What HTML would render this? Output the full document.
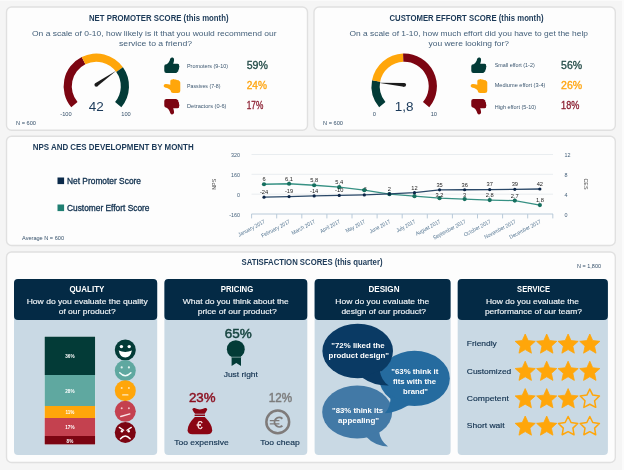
<!DOCTYPE html><html><head><meta charset="utf-8"><style>html,body{margin:0;padding:0;background:#f5f5f5;}svg{display:block;filter:blur(0.35px);}</style></head><body><svg width="624" height="470" viewBox="0 0 624 470" font-family="Liberation Sans, sans-serif">
<rect width="624" height="470" fill="#f5f5f5"/>
<rect x="622" y="0" width="2" height="470" fill="#fbfbfb"/>
<rect x="0" y="0" width="624" height="0.9" fill="#fbfbfb"/>
<rect x="6.5" y="7" width="301.0" height="123.30000000000001" rx="5" fill="#fdfdfd" stroke="#e0e0e0" stroke-width="1.4"/>
<rect x="314" y="7" width="301.29999999999995" height="123.30000000000001" rx="5" fill="#fdfdfd" stroke="#e0e0e0" stroke-width="1.4"/>
<rect x="6.5" y="136.2" width="608.8" height="109.30000000000001" rx="5" fill="#fdfdfd" stroke="#e0e0e0" stroke-width="1.4"/>
<rect x="6.5" y="252" width="608.8" height="210.5" rx="5" fill="#fdfdfd" stroke="#e0e0e0" stroke-width="1.4"/>
<text x="89" y="20.6" font-size="8.2" fill="#1b3957" text-anchor="start" font-weight="bold" textLength="139.5" lengthAdjust="spacingAndGlyphs">NET PROMOTER SCORE (this month)</text>
<text x="32" y="36" font-size="8" fill="#44607a" text-anchor="start" font-weight="normal" textLength="244.5" lengthAdjust="spacingAndGlyphs">On a scale of 0-10, how likely is it that you would recommend our</text>
<text x="119" y="45.6" font-size="8" fill="#44607a" text-anchor="start" font-weight="normal" textLength="73" lengthAdjust="spacingAndGlyphs">service to a friend?</text>
<path d="M71.25,107.32 A32.7,32.7 0 0 1 81.71,57.04 L85.37,64.37 A24.5,24.5 0 0 0 77.53,102.05 Z" fill="#7c0512"/>
<path d="M81.71,57.04 A32.7,32.7 0 0 1 122.95,67.36 L116.27,72.11 A24.5,24.5 0 0 0 85.37,64.37 Z" fill="#ffa60a"/>
<path d="M122.95,67.36 A32.7,32.7 0 0 1 121.35,107.32 L115.07,102.05 A24.5,24.5 0 0 0 116.27,72.11 Z" fill="#033b37"/>
<path d="M97.40,86.35 L116.19,70.67 L95.20,83.25 Z" fill="#1c1c1c"/>
<circle cx="96.3" cy="84.8" r="1.9" fill="#1c1c1c"/>
<text x="96.3" y="110.9" font-size="13.5" fill="#1b3a5a" text-anchor="middle" font-weight="normal">42</text>
<text x="66" y="116.1" font-size="5.7" fill="#35506a" text-anchor="middle" font-weight="normal">-100</text>
<text x="126" y="116.1" font-size="5.7" fill="#35506a" text-anchor="middle" font-weight="normal">100</text>
<path d="M0.4,9 Q0.4,7 2.4,6.9 L2.8,6.9 Q4.6,6 5.8,3.4 Q6.2,2 6.7,1 Q7.4,-0.1 8.9,0.2 Q10.4,0.8 10.3,2.4 Q10.2,4.4 9.4,6.4 L13.8,6.4 Q15.8,6.5 15.4,8.4 Q16.2,9.6 15.2,10.6 Q15.8,12 14.6,12.8 Q15,14.2 13.6,14.8 Q13.2,15.8 12,15.8 L2.6,15.8 Q0.4,15.8 0.4,13.6 Z" fill="#033b37" transform="translate(163.88000000000002,57.379999999999995) scale(0.99)"/>
<path d="M0.4,9 Q0.4,7 2.4,6.9 L2.8,6.9 Q4.6,6 5.8,3.4 Q6.2,2 6.7,1 Q7.4,-0.1 8.9,0.2 Q10.4,0.8 10.3,2.4 Q10.2,4.4 9.4,6.4 L13.8,6.4 Q15.8,6.5 15.4,8.4 Q16.2,9.6 15.2,10.6 Q15.8,12 14.6,12.8 Q15,14.2 13.6,14.8 Q13.2,15.8 12,15.8 L2.6,15.8 Q0.4,15.8 0.4,13.6 Z" fill="#ffa60a" transform="translate(172,86.1) rotate(-90) scale(0.9,1.06) translate(-8,-8)"/>
<path d="M0.4,9 Q0.4,7 2.4,6.9 L2.8,6.9 Q4.6,6 5.8,3.4 Q6.2,2 6.7,1 Q7.4,-0.1 8.9,0.2 Q10.4,0.8 10.3,2.4 Q10.2,4.4 9.4,6.4 L13.8,6.4 Q15.8,6.5 15.4,8.4 Q16.2,9.6 15.2,10.6 Q15.8,12 14.6,12.8 Q15,14.2 13.6,14.8 Q13.2,15.8 12,15.8 L2.6,15.8 Q0.4,15.8 0.4,13.6 Z" fill="#7c0512" transform="translate(163.88000000000002,114.52) scale(0.99,-0.99)"/>
<text x="187" y="67.6" font-size="5.9" fill="#3b566f" text-anchor="start" font-weight="normal" textLength="41" lengthAdjust="spacingAndGlyphs">Promoters (9-10)</text>
<text x="187" y="87.6" font-size="5.9" fill="#3b566f" text-anchor="start" font-weight="normal" textLength="33.5" lengthAdjust="spacingAndGlyphs">Passives (7-8)</text>
<text x="187" y="108.2" font-size="5.9" fill="#3b566f" text-anchor="start" font-weight="normal" textLength="39.5" lengthAdjust="spacingAndGlyphs">Detractors (0-6)</text>
<text x="246.7" y="68.7" font-size="10.1" fill="#244c48" text-anchor="start" font-weight="normal" textLength="21.2" lengthAdjust="spacingAndGlyphs" stroke="#244c48" stroke-width="0.3">59%</text>
<text x="246.7" y="88.6" font-size="10.1" fill="#ffa510" text-anchor="start" font-weight="normal" textLength="20.2" lengthAdjust="spacingAndGlyphs" stroke="#ffa510" stroke-width="0.3">24%</text>
<text x="246.7" y="109.3" font-size="10.1" fill="#8c2032" text-anchor="start" font-weight="normal" textLength="16.6" lengthAdjust="spacingAndGlyphs" stroke="#8c2032" stroke-width="0.3">17%</text>
<text x="16" y="124.6" font-size="5.4" fill="#35506a" text-anchor="start" font-weight="normal" textLength="20" lengthAdjust="spacingAndGlyphs">N = 600</text>
<text x="389.5" y="20.6" font-size="8.2" fill="#1b3957" text-anchor="start" font-weight="bold" textLength="154" lengthAdjust="spacingAndGlyphs">CUSTOMER EFFORT SCORE (this month)</text>
<text x="349.5" y="36" font-size="8" fill="#44607a" text-anchor="start" font-weight="normal" textLength="238.5" lengthAdjust="spacingAndGlyphs">On a scale of 1-10, how much effort did you have to get the help</text>
<text x="428.5" y="45.6" font-size="8" fill="#44607a" text-anchor="start" font-weight="normal" textLength="80.5" lengthAdjust="spacingAndGlyphs">you were looking for?</text>
<path d="M379.15,107.32 A32.7,32.7 0 0 1 372.05,80.34 L380.11,81.84 A24.5,24.5 0 0 0 385.43,102.05 Z" fill="#033b37"/>
<path d="M372.05,80.34 A32.7,32.7 0 0 1 403.06,53.62 L403.34,61.81 A24.5,24.5 0 0 0 380.11,81.84 Z" fill="#ffa60a"/>
<path d="M403.06,53.62 A32.7,32.7 0 0 1 429.25,107.32 L422.97,102.05 A24.5,24.5 0 0 0 403.34,61.81 Z" fill="#7c0512"/>
<path d="M404.35,82.91 L378.28,82.81 L404.05,86.69 Z" fill="#1c1c1c"/>
<circle cx="404.2" cy="84.8" r="1.9" fill="#1c1c1c"/>
<text x="404.2" y="110.9" font-size="13.5" fill="#1b3a5a" text-anchor="middle" font-weight="normal">1,8</text>
<text x="374.3" y="116.1" font-size="5.7" fill="#35506a" text-anchor="middle" font-weight="normal">0</text>
<text x="433.8" y="116.1" font-size="5.7" fill="#35506a" text-anchor="middle" font-weight="normal">10</text>
<path d="M0.4,9 Q0.4,7 2.4,6.9 L2.8,6.9 Q4.6,6 5.8,3.4 Q6.2,2 6.7,1 Q7.4,-0.1 8.9,0.2 Q10.4,0.8 10.3,2.4 Q10.2,4.4 9.4,6.4 L13.8,6.4 Q15.8,6.5 15.4,8.4 Q16.2,9.6 15.2,10.6 Q15.8,12 14.6,12.8 Q15,14.2 13.6,14.8 Q13.2,15.8 12,15.8 L2.6,15.8 Q0.4,15.8 0.4,13.6 Z" fill="#033b37" transform="translate(470.88,57.379999999999995) scale(0.99)"/>
<path d="M0.4,9 Q0.4,7 2.4,6.9 L2.8,6.9 Q4.6,6 5.8,3.4 Q6.2,2 6.7,1 Q7.4,-0.1 8.9,0.2 Q10.4,0.8 10.3,2.4 Q10.2,4.4 9.4,6.4 L13.8,6.4 Q15.8,6.5 15.4,8.4 Q16.2,9.6 15.2,10.6 Q15.8,12 14.6,12.8 Q15,14.2 13.6,14.8 Q13.2,15.8 12,15.8 L2.6,15.8 Q0.4,15.8 0.4,13.6 Z" fill="#ffa60a" transform="translate(479,86.1) rotate(-90) scale(0.9,1.06) translate(-8,-8)"/>
<path d="M0.4,9 Q0.4,7 2.4,6.9 L2.8,6.9 Q4.6,6 5.8,3.4 Q6.2,2 6.7,1 Q7.4,-0.1 8.9,0.2 Q10.4,0.8 10.3,2.4 Q10.2,4.4 9.4,6.4 L13.8,6.4 Q15.8,6.5 15.4,8.4 Q16.2,9.6 15.2,10.6 Q15.8,12 14.6,12.8 Q15,14.2 13.6,14.8 Q13.2,15.8 12,15.8 L2.6,15.8 Q0.4,15.8 0.4,13.6 Z" fill="#7c0512" transform="translate(470.88,114.52) scale(0.99,-0.99)"/>
<text x="494.7" y="67.2" font-size="5.9" fill="#3b566f" text-anchor="start" font-weight="normal" textLength="40" lengthAdjust="spacingAndGlyphs">Small effort (1-2)</text>
<text x="494.7" y="87.2" font-size="5.9" fill="#3b566f" text-anchor="start" font-weight="normal" textLength="50.8" lengthAdjust="spacingAndGlyphs">Mediume effort (3-4)</text>
<text x="494.7" y="108.6" font-size="5.9" fill="#3b566f" text-anchor="start" font-weight="normal" textLength="41.4" lengthAdjust="spacingAndGlyphs">High effort (5-10)</text>
<text x="561.1" y="68.7" font-size="10.1" fill="#244c48" text-anchor="start" font-weight="normal" textLength="21.1" lengthAdjust="spacingAndGlyphs" stroke="#244c48" stroke-width="0.3">56%</text>
<text x="561.1" y="88.6" font-size="10.1" fill="#ffa510" text-anchor="start" font-weight="normal" textLength="21.1" lengthAdjust="spacingAndGlyphs" stroke="#ffa510" stroke-width="0.3">26%</text>
<text x="561.1" y="109.3" font-size="10.1" fill="#8c2032" text-anchor="start" font-weight="normal" textLength="18.3" lengthAdjust="spacingAndGlyphs" stroke="#8c2032" stroke-width="0.3">18%</text>
<text x="323" y="124.6" font-size="5.4" fill="#35506a" text-anchor="start" font-weight="normal" textLength="20" lengthAdjust="spacingAndGlyphs">N = 600</text>
<text x="32.7" y="150.1" font-size="8.2" fill="#1b3957" text-anchor="start" font-weight="bold" textLength="161" lengthAdjust="spacingAndGlyphs">NPS AND CES DEVELOPMENT BY MONTH</text>
<rect x="57.5" y="177.5" width="6.6" height="6.6" fill="#0b2a4a"/>
<text x="67" y="183.9" font-size="8.3" fill="#10304e" text-anchor="start" font-weight="normal" textLength="74" lengthAdjust="spacingAndGlyphs" stroke="#10304e" stroke-width="0.3">Net Promoter Score</text>
<rect x="57.5" y="204.5" width="6.6" height="6.6" fill="#1f7f72"/>
<text x="67" y="210.9" font-size="8.3" fill="#10304e" text-anchor="start" font-weight="normal" textLength="82.5" lengthAdjust="spacingAndGlyphs" stroke="#10304e" stroke-width="0.3">Customer Effort Score</text>
<text x="22" y="240.3" font-size="5.4" fill="#35506a" text-anchor="start" font-weight="normal" textLength="42" lengthAdjust="spacingAndGlyphs">Average N = 600</text>
<line x1="251.5" x2="553" y1="154.5" y2="154.5" stroke="#e9edf0" stroke-width="1"/>
<line x1="251.5" x2="553" y1="174.3" y2="174.3" stroke="#e9edf0" stroke-width="1"/>
<line x1="251.5" x2="553" y1="194.2" y2="194.2" stroke="#e9edf0" stroke-width="1"/>
<line x1="251.5" x2="553" y1="214.0" y2="214.0" stroke="#b9cad9" stroke-width="1"/>
<text x="240" y="157.2" font-size="5.4" fill="#44607a" text-anchor="end" font-weight="normal">320</text>
<text x="240" y="177.0" font-size="5.4" fill="#44607a" text-anchor="end" font-weight="normal">160</text>
<text x="240" y="196.89999999999998" font-size="5.4" fill="#44607a" text-anchor="end" font-weight="normal">0</text>
<text x="240" y="216.7" font-size="5.4" fill="#44607a" text-anchor="end" font-weight="normal">-160</text>
<text x="564.5" y="157.2" font-size="5.4" fill="#44607a" text-anchor="start" font-weight="normal">12</text>
<text x="564.5" y="177.0" font-size="5.4" fill="#44607a" text-anchor="start" font-weight="normal">8</text>
<text x="564.5" y="196.89999999999998" font-size="5.4" fill="#44607a" text-anchor="start" font-weight="normal">4</text>
<text x="564.5" y="216.7" font-size="5.4" fill="#44607a" text-anchor="start" font-weight="normal">0</text>
<text transform="translate(216.2,184.3) rotate(-90)" font-size="5.4" fill="#4a4a4a" text-anchor="middle">NPS</text>
<text transform="translate(584.2,184) rotate(90)" font-size="5.4" fill="#4a4a4a" text-anchor="middle">CES</text>
<line x1="251.60" x2="251.60" y1="214" y2="218.4" stroke="#b9cad9" stroke-width="1"/>
<line x1="276.70" x2="276.70" y1="214" y2="218.4" stroke="#b9cad9" stroke-width="1"/>
<line x1="301.80" x2="301.80" y1="214" y2="218.4" stroke="#b9cad9" stroke-width="1"/>
<line x1="326.90" x2="326.90" y1="214" y2="218.4" stroke="#b9cad9" stroke-width="1"/>
<line x1="352.00" x2="352.00" y1="214" y2="218.4" stroke="#b9cad9" stroke-width="1"/>
<line x1="377.10" x2="377.10" y1="214" y2="218.4" stroke="#b9cad9" stroke-width="1"/>
<line x1="402.20" x2="402.20" y1="214" y2="218.4" stroke="#b9cad9" stroke-width="1"/>
<line x1="427.30" x2="427.30" y1="214" y2="218.4" stroke="#b9cad9" stroke-width="1"/>
<line x1="452.40" x2="452.40" y1="214" y2="218.4" stroke="#b9cad9" stroke-width="1"/>
<line x1="477.50" x2="477.50" y1="214" y2="218.4" stroke="#b9cad9" stroke-width="1"/>
<line x1="502.60" x2="502.60" y1="214" y2="218.4" stroke="#b9cad9" stroke-width="1"/>
<line x1="527.70" x2="527.70" y1="214" y2="218.4" stroke="#b9cad9" stroke-width="1"/>
<line x1="552.80" x2="552.80" y1="214" y2="218.4" stroke="#b9cad9" stroke-width="1"/>
<text transform="translate(265.40,222.8) rotate(-28)" font-size="5.5" fill="#50728f" x="-29.62" textLength="29.62" lengthAdjust="spacingAndGlyphs">January 2017</text>
<text transform="translate(290.48,222.8) rotate(-28)" font-size="5.5" fill="#50728f" x="-31.79" textLength="31.79" lengthAdjust="spacingAndGlyphs">February 2017</text>
<text transform="translate(315.56,222.8) rotate(-28)" font-size="5.5" fill="#50728f" x="-25.81" textLength="25.81" lengthAdjust="spacingAndGlyphs">March 2017</text>
<text transform="translate(340.64,222.8) rotate(-28)" font-size="5.5" fill="#50728f" x="-22.01" textLength="22.01" lengthAdjust="spacingAndGlyphs">April 2017</text>
<text transform="translate(365.72,222.8) rotate(-28)" font-size="5.5" fill="#50728f" x="-21.46" textLength="21.46" lengthAdjust="spacingAndGlyphs">May 2017</text>
<text transform="translate(390.80,222.8) rotate(-28)" font-size="5.5" fill="#50728f" x="-22.83" textLength="22.83" lengthAdjust="spacingAndGlyphs">June 2017</text>
<text transform="translate(415.88,222.8) rotate(-28)" font-size="5.5" fill="#50728f" x="-20.92" textLength="20.92" lengthAdjust="spacingAndGlyphs">July 2017</text>
<text transform="translate(440.96,222.8) rotate(-28)" font-size="5.5" fill="#50728f" x="-27.45" textLength="27.45" lengthAdjust="spacingAndGlyphs">August 2017</text>
<text transform="translate(466.04,222.8) rotate(-28)" font-size="5.5" fill="#50728f" x="-36.14" textLength="36.14" lengthAdjust="spacingAndGlyphs">September 2017</text>
<text transform="translate(491.12,222.8) rotate(-28)" font-size="5.5" fill="#50728f" x="-29.62" textLength="29.62" lengthAdjust="spacingAndGlyphs">October 2017</text>
<text transform="translate(516.20,222.8) rotate(-28)" font-size="5.5" fill="#50728f" x="-34.78" textLength="34.78" lengthAdjust="spacingAndGlyphs">November 2017</text>
<text transform="translate(541.28,222.8) rotate(-28)" font-size="5.5" fill="#50728f" x="-34.78" textLength="34.78" lengthAdjust="spacingAndGlyphs">December 2017</text>
<polyline fill="none" stroke="#379184" stroke-width="1.3" points="264.0,184.24 289.08,183.74 314.15999999999997,185.23 339.24,187.22 364.32,190.19 389.4,194.16 414.48,196.14 439.56,198.13 464.64,199.12 489.71999999999997,200.11 514.8,200.61 539.88,205.07"/>
<polyline fill="none" stroke="#2a4868" stroke-width="1.3" points="264.0,197.18 289.08,196.56 314.15999999999997,195.94 339.24,195.44 364.32,194.94 389.4,193.95 414.48,192.71 439.56,189.86 464.64,189.73 489.71999999999997,189.61 514.8,189.36 539.88,188.99"/>
<text x="364.32" y="191.2" font-size="5.7" fill="#1c1c1c" text-anchor="middle" font-weight="normal">-6</text>
<circle cx="264.0" cy="184.24" r="2.1" fill="#16705f"/>
<circle cx="289.08" cy="183.74" r="2.1" fill="#16705f"/>
<circle cx="314.15999999999997" cy="185.23" r="2.1" fill="#16705f"/>
<circle cx="339.24" cy="187.22" r="2.1" fill="#16705f"/>
<circle cx="364.32" cy="190.19" r="2.1" fill="#16705f"/>
<circle cx="389.4" cy="194.16" r="2.1" fill="#16705f"/>
<circle cx="414.48" cy="196.14" r="2.1" fill="#16705f"/>
<circle cx="439.56" cy="198.13" r="2.1" fill="#16705f"/>
<circle cx="464.64" cy="199.12" r="2.1" fill="#16705f"/>
<circle cx="489.71999999999997" cy="200.11" r="2.1" fill="#16705f"/>
<circle cx="514.8" cy="200.61" r="2.1" fill="#16705f"/>
<circle cx="539.88" cy="205.07" r="2.1" fill="#16705f"/>
<circle cx="264.0" cy="197.18" r="1.6" fill="#0b2547"/>
<circle cx="289.08" cy="196.56" r="1.6" fill="#0b2547"/>
<circle cx="314.15999999999997" cy="195.94" r="1.6" fill="#0b2547"/>
<circle cx="339.24" cy="195.44" r="1.6" fill="#0b2547"/>
<circle cx="364.32" cy="194.94" r="1.6" fill="#0b2547"/>
<circle cx="389.4" cy="193.95" r="1.6" fill="#0b2547"/>
<circle cx="414.48" cy="192.71" r="1.6" fill="#0b2547"/>
<circle cx="439.56" cy="189.86" r="1.6" fill="#0b2547"/>
<circle cx="464.64" cy="189.73" r="1.6" fill="#0b2547"/>
<circle cx="489.71999999999997" cy="189.61" r="1.6" fill="#0b2547"/>
<circle cx="514.8" cy="189.36" r="1.6" fill="#0b2547"/>
<circle cx="539.88" cy="188.99" r="1.6" fill="#0b2547"/>
<text x="264.0" y="181.04000000000002" font-size="5.7" fill="#1c1c1c" text-anchor="middle" font-weight="normal">6</text>
<text x="289.08" y="180.544" font-size="5.7" fill="#1c1c1c" text-anchor="middle" font-weight="normal">6,1</text>
<text x="314.15999999999997" y="182.032" font-size="5.7" fill="#1c1c1c" text-anchor="middle" font-weight="normal">5,8</text>
<text x="339.24" y="184.01600000000002" font-size="5.7" fill="#1c1c1c" text-anchor="middle" font-weight="normal">5,4</text>
<text x="439.56" y="196.728" font-size="5.7" fill="#1c1c1c" text-anchor="middle" font-weight="normal">3,2</text>
<text x="464.64" y="197.32000000000002" font-size="5.7" fill="#1c1c1c" text-anchor="middle" font-weight="normal">3</text>
<text x="489.71999999999997" y="197.21200000000002" font-size="5.7" fill="#1c1c1c" text-anchor="middle" font-weight="normal">2,8</text>
<text x="514.8" y="197.608" font-size="5.7" fill="#1c1c1c" text-anchor="middle" font-weight="normal">2,7</text>
<text x="539.88" y="201.872" font-size="5.7" fill="#1c1c1c" text-anchor="middle" font-weight="normal">1,8</text>
<text x="264.0" y="193.9775" font-size="5.7" fill="#1c1c1c" text-anchor="middle" font-weight="normal">-24</text>
<text x="289.08" y="193.3571875" font-size="5.7" fill="#1c1c1c" text-anchor="middle" font-weight="normal">-19</text>
<text x="314.15999999999997" y="192.736875" font-size="5.7" fill="#1c1c1c" text-anchor="middle" font-weight="normal">-14</text>
<text x="339.24" y="192.240625" font-size="5.7" fill="#1c1c1c" text-anchor="middle" font-weight="normal">-10</text>
<text x="389.4" y="190.751875" font-size="5.7" fill="#1c1c1c" text-anchor="middle" font-weight="normal">2</text>
<text x="414.48" y="189.51125" font-size="5.7" fill="#1c1c1c" text-anchor="middle" font-weight="normal">12</text>
<text x="439.56" y="186.6578125" font-size="5.7" fill="#1c1c1c" text-anchor="middle" font-weight="normal">35</text>
<text x="464.64" y="186.53375" font-size="5.7" fill="#1c1c1c" text-anchor="middle" font-weight="normal">36</text>
<text x="489.71999999999997" y="186.4096875" font-size="5.7" fill="#1c1c1c" text-anchor="middle" font-weight="normal">37</text>
<text x="514.8" y="186.1615625" font-size="5.7" fill="#1c1c1c" text-anchor="middle" font-weight="normal">39</text>
<text x="539.88" y="185.789375" font-size="5.7" fill="#1c1c1c" text-anchor="middle" font-weight="normal">42</text>
<text x="241.5" y="264.8" font-size="8.2" fill="#1b3957" text-anchor="start" font-weight="bold" textLength="141" lengthAdjust="spacingAndGlyphs">SATISFACTION SCORES (this quarter)</text>
<text x="577" y="268" font-size="5.4" fill="#35506a" text-anchor="start" font-weight="normal" textLength="24" lengthAdjust="spacingAndGlyphs">N = 1,800</text>
<rect x="14" y="279" width="143.2" height="176" rx="4" fill="#c9d9e4"/>
<rect x="14" y="279" width="143.2" height="40.9" rx="4" fill="#042a45"/>
<rect x="164.4" y="279" width="142.9" height="176" rx="4" fill="#c9d9e4"/>
<rect x="164.4" y="279" width="142.9" height="40.9" rx="4" fill="#042a45"/>
<rect x="314.6" y="279" width="136.0" height="176" rx="4" fill="#c9d9e4"/>
<rect x="314.6" y="279" width="136.0" height="40.9" rx="4" fill="#042a45"/>
<rect x="457.7" y="279" width="150.2" height="176" rx="4" fill="#c9d9e4"/>
<rect x="457.7" y="279" width="150.2" height="40.9" rx="4" fill="#042a45"/>
<text x="69.4" y="291.8" font-size="8.2" fill="#fff" text-anchor="start" font-weight="bold" textLength="35" lengthAdjust="spacingAndGlyphs">QUALITY</text>
<text x="26.700000000000003" y="303.6" font-size="7.8" fill="#f0f4f7" text-anchor="start" font-weight="normal" textLength="121" lengthAdjust="spacingAndGlyphs" stroke="#f0f4f7" stroke-width="0.15">How do you evaluate the quality</text>
<text x="58.7" y="314.0" font-size="7.8" fill="#f0f4f7" text-anchor="start" font-weight="normal" textLength="57" lengthAdjust="spacingAndGlyphs" stroke="#f0f4f7" stroke-width="0.15">of our product?</text>
<text x="220.75" y="291.8" font-size="8.2" fill="#fff" text-anchor="start" font-weight="bold" textLength="32.5" lengthAdjust="spacingAndGlyphs">PRICING</text>
<text x="182.8" y="303.6" font-size="7.8" fill="#f0f4f7" text-anchor="start" font-weight="normal" textLength="106" lengthAdjust="spacingAndGlyphs" stroke="#f0f4f7" stroke-width="0.15">What do you think about the</text>
<text x="197.7" y="314.0" font-size="7.8" fill="#f0f4f7" text-anchor="start" font-weight="normal" textLength="79" lengthAdjust="spacingAndGlyphs" stroke="#f0f4f7" stroke-width="0.15">price of our product?</text>
<text x="368.5" y="291.8" font-size="8.2" fill="#fff" text-anchor="start" font-weight="bold" textLength="31" lengthAdjust="spacingAndGlyphs">DESIGN</text>
<text x="335.3" y="303.6" font-size="7.8" fill="#f0f4f7" text-anchor="start" font-weight="normal" textLength="94" lengthAdjust="spacingAndGlyphs" stroke="#f0f4f7" stroke-width="0.15">How do you evaluate the</text>
<text x="341.4" y="314.0" font-size="7.8" fill="#f0f4f7" text-anchor="start" font-weight="normal" textLength="84.6" lengthAdjust="spacingAndGlyphs" stroke="#f0f4f7" stroke-width="0.15">design of our product?</text>
<text x="517.1" y="291.8" font-size="8.2" fill="#fff" text-anchor="start" font-weight="bold" textLength="33" lengthAdjust="spacingAndGlyphs">SERVICE</text>
<text x="486.0" y="303.6" font-size="7.8" fill="#f0f4f7" text-anchor="start" font-weight="normal" textLength="93" lengthAdjust="spacingAndGlyphs" stroke="#f0f4f7" stroke-width="0.15">How do you evaluate the</text>
<text x="484.9" y="314.0" font-size="7.8" fill="#f0f4f7" text-anchor="start" font-weight="normal" textLength="97" lengthAdjust="spacingAndGlyphs" stroke="#f0f4f7" stroke-width="0.15">performance of our team?</text>
<rect x="44.2" y="336.2" width="51.4" height="108.7" fill="#dfeaf1"/>
<rect x="44.7" y="336.7" width="50.4" height="38.30000000000001" fill="#033b37"/>
<text x="69.9" y="358.15000000000003" font-size="4.6" fill="#fff" text-anchor="middle" font-weight="bold">36%</text>
<rect x="44.7" y="375" width="50.4" height="31" fill="#5fa8a0"/>
<text x="69.9" y="392.8" font-size="4.6" fill="#fff" text-anchor="middle" font-weight="bold">28%</text>
<rect x="44.7" y="406" width="50.4" height="12" fill="#ffa60a"/>
<text x="69.9" y="414.3" font-size="4.6" fill="#fff" text-anchor="middle" font-weight="bold">11%</text>
<rect x="44.7" y="418" width="50.4" height="18" fill="#c4414f"/>
<text x="69.9" y="429.3" font-size="4.6" fill="#fff" text-anchor="middle" font-weight="bold">17%</text>
<rect x="44.7" y="436" width="50.4" height="8.399999999999977" fill="#7c0512"/>
<text x="69.9" y="442.5" font-size="4.6" fill="#fff" text-anchor="middle" font-weight="bold">8%</text>
<circle cx="125.3" cy="350" r="10.5" fill="#033b37"/>
<circle cx="125.3" cy="370.6" r="10.5" fill="#5fa8a0"/>
<circle cx="125.3" cy="390.7" r="10.5" fill="#ffa60a"/>
<circle cx="125.3" cy="411.3" r="10.5" fill="#c4414f"/>
<circle cx="125.3" cy="432.4" r="10.5" fill="#7c0512"/>
<circle cx="121.39999999999999" cy="346.6" r="1.7" fill="#ffffff"/><circle cx="129.2" cy="346.6" r="1.7" fill="#ffffff"/>
<path d="M118.7,350.6 Q125.3,353.2 131.9,350.6 Q130.5,357.6 125.3,357.6 Q120.1,357.6 118.7,350.6 Z" fill="#ffffff"/>
<circle cx="121.7" cy="367.40000000000003" r="1.1" fill="#e4f3f0"/><circle cx="128.9" cy="367.40000000000003" r="1.1" fill="#e4f3f0"/>
<path d="M119.7,372.8 Q125.3,378.6 130.9,372.8" fill="none" stroke="#f2fbf9" stroke-width="1.5" stroke-linecap="round"/>
<circle cx="121.7" cy="387.9" r="1.0" fill="#ffe2ae"/><circle cx="128.9" cy="387.9" r="1.0" fill="#ffe2ae"/>
<line x1="122.7" x2="127.89999999999999" y1="394.9" y2="394.9" stroke="#ffe9c0" stroke-width="1.3" stroke-linecap="round"/>
<circle cx="121.7" cy="408.3" r="1.0" fill="#f3c3c8"/><circle cx="128.9" cy="408.3" r="1.0" fill="#f3c3c8"/>
<line x1="120.7" x2="129.9" y1="416.5" y2="413.90000000000003" stroke="#fbe3e5" stroke-width="1.3" stroke-linecap="round"/>
<path d="M119.3,427.4 L123.7,430.2 M131.3,427.4 L126.89999999999999,430.2" stroke="#ffffff" stroke-width="1.3" stroke-linecap="round" fill="none"/>
<circle cx="121.89999999999999" cy="431.2" r="1.2" fill="#ffffff"/><circle cx="128.7" cy="431.2" r="1.2" fill="#ffffff"/>
<path d="M120.5,438.79999999999995 Q125.3,433.0 130.1,438.79999999999995" fill="none" stroke="#ffffff" stroke-width="1.5" stroke-linecap="round"/>
<text x="238.3" y="337.8" font-size="12.1" fill="#174540" text-anchor="middle" font-weight="normal" textLength="27" lengthAdjust="spacingAndGlyphs" stroke="#174540" stroke-width="0.45">65%</text>
<circle cx="235.8" cy="349.2" r="8.95" fill="#033b37"/>
<path d="M231.6,355 L241,355 L241,365.9 L236.3,362.9 L231.6,365.9 Z" fill="#033b37"/>
<path d="M230.5,357.2 H242" stroke="#9fb9b9" stroke-width="0.7" fill="none"/>
<text x="240.8" y="377.4" font-size="8" fill="#10304e" text-anchor="middle" font-weight="normal" textLength="34.2" lengthAdjust="spacingAndGlyphs" stroke="#10304e" stroke-width="0.15">Just right</text>
<text x="202.2" y="402.2" font-size="12.3" fill="#8b0f1f" text-anchor="middle" font-weight="normal" textLength="26.6" lengthAdjust="spacingAndGlyphs" stroke="#8b0f1f" stroke-width="0.45">23%</text>
<text x="280.5" y="402.2" font-size="12.3" fill="#7c7c7c" text-anchor="middle" font-weight="normal" textLength="23.4" lengthAdjust="spacingAndGlyphs" stroke="#7c7c7c" stroke-width="0.45">12%</text>
<path d="M192.3,409.6 Q192.5,407.7 194.6,408.1 Q199.8,410.9 205,408.1 Q207.1,407.7 207.3,409.6 Q206.2,412 204.7,413.7 L195.1,413.7 Q193.4,412 192.3,409.6 Z" fill="#8b0513"/>
<rect x="194.6" y="414.5" width="10.4" height="1.5" fill="#8b0513"/>
<path d="M194.8,416.9 L204.8,416.9 Q212.4,424.4 212.2,430.2 Q212,434.3 207.4,434.3 L192.4,434.3 Q187.8,434.3 187.6,430.2 Q187.4,424.4 194.8,416.9 Z" fill="#8b0513"/>
<text x="199.6" y="429.0" font-size="10.4" fill="#fdeeee" text-anchor="middle" font-weight="normal" stroke="#fdeeee" stroke-width="0.25">€</text>
<circle cx="277.75" cy="421.9" r="11.4" fill="none" stroke="#7f7b7a" stroke-width="2.5"/>
<path d="M282.4,418.7 A4.7,4.7 0 1 0 282.4,425.7" fill="none" stroke="#7f7b7a" stroke-width="1.9"/>
<path d="M269.8,420.7 H279.4 M269.8,423.8 H279.4" fill="none" stroke="#7f7b7a" stroke-width="1.3"/>
<text x="201.4" y="445.0" font-size="8" fill="#10304e" text-anchor="middle" font-weight="normal" textLength="54.5" lengthAdjust="spacingAndGlyphs" stroke="#10304e" stroke-width="0.15">Too expensive</text>
<text x="280" y="445.0" font-size="8" fill="#10304e" text-anchor="middle" font-weight="normal" textLength="39.5" lengthAdjust="spacingAndGlyphs" stroke="#10304e" stroke-width="0.15">Too cheap</text>
<ellipse cx="357.2" cy="412" rx="35" ry="26.5" fill="#4279a6"/>
<path d="M366,436.5 Q374,445.5 388,446.6 Q380,440.5 379,431 Z" fill="#4279a6"/>
<ellipse cx="414.5" cy="378.4" rx="35.3" ry="27.6" fill="#256b9f"/>
<path d="M409,405 Q395,413 384.8,413.3 Q391,407 390.5,395 Z" fill="#256b9f"/>
<ellipse cx="357.7" cy="351" rx="35.3" ry="27.3" fill="#0a3a64"/>
<path d="M362,377.5 Q374,386 388.8,385.6 Q381,380.5 379.8,370.5 Z" fill="#0a3a64"/>
<text x="331.3" y="348.2" font-size="7.6" fill="#fff" text-anchor="start" font-weight="bold" textLength="53.4" lengthAdjust="spacingAndGlyphs">"72% liked the</text>
<text x="328.6" y="358.4" font-size="7.6" fill="#fff" text-anchor="start" font-weight="bold" textLength="60.4" lengthAdjust="spacingAndGlyphs">product design"</text>
<text x="391.3" y="374.2" font-size="7.6" fill="#fff" text-anchor="start" font-weight="bold" textLength="47" lengthAdjust="spacingAndGlyphs">"63% think it</text>
<text x="393.0" y="384.3" font-size="7.6" fill="#fff" text-anchor="start" font-weight="bold" textLength="43" lengthAdjust="spacingAndGlyphs">fits with the</text>
<text x="403.0" y="394.4" font-size="7.6" fill="#fff" text-anchor="start" font-weight="bold" textLength="25" lengthAdjust="spacingAndGlyphs">brand"</text>
<text x="332.1" y="412.6" font-size="7.6" fill="#fff" text-anchor="start" font-weight="bold" textLength="51" lengthAdjust="spacingAndGlyphs">"83% think its</text>
<text x="338.1" y="422.8" font-size="7.6" fill="#fff" text-anchor="start" font-weight="bold" textLength="41" lengthAdjust="spacingAndGlyphs">appealing"</text>
<text x="466.8" y="346.4" font-size="8" fill="#10304e" text-anchor="start" font-weight="normal" textLength="30" lengthAdjust="spacingAndGlyphs" stroke="#10304e" stroke-width="0.15">Friendly</text>
<polygon points="525.20,334.00 528.13,340.57 535.28,341.32 529.94,346.14 531.43,353.18 525.20,349.58 518.97,353.18 520.46,346.14 515.12,341.32 522.27,340.57" fill="#ffa60a" stroke="#ffa60a" stroke-width="0.8" stroke-linejoin="round"/>
<polygon points="546.70,334.00 549.63,340.57 556.78,341.32 551.44,346.14 552.93,353.18 546.70,349.58 540.47,353.18 541.96,346.14 536.62,341.32 543.77,340.57" fill="#ffa60a" stroke="#ffa60a" stroke-width="0.8" stroke-linejoin="round"/>
<polygon points="568.10,334.00 571.03,340.57 578.18,341.32 572.84,346.14 574.33,353.18 568.10,349.58 561.87,353.18 563.36,346.14 558.02,341.32 565.17,340.57" fill="#ffa60a" stroke="#ffa60a" stroke-width="0.8" stroke-linejoin="round"/>
<polygon points="589.80,334.00 592.73,340.57 599.88,341.32 594.54,346.14 596.03,353.18 589.80,349.58 583.57,353.18 585.06,346.14 579.72,341.32 586.87,340.57" fill="#ffa60a" stroke="#ffa60a" stroke-width="0.8" stroke-linejoin="round"/>
<text x="466.8" y="373.6" font-size="8" fill="#10304e" text-anchor="start" font-weight="normal" textLength="44.5" lengthAdjust="spacingAndGlyphs" stroke="#10304e" stroke-width="0.15">Customized</text>
<polygon points="525.20,361.20 528.13,367.77 535.28,368.52 529.94,373.34 531.43,380.38 525.20,376.78 518.97,380.38 520.46,373.34 515.12,368.52 522.27,367.77" fill="#ffa60a" stroke="#ffa60a" stroke-width="0.8" stroke-linejoin="round"/>
<polygon points="546.70,361.20 549.63,367.77 556.78,368.52 551.44,373.34 552.93,380.38 546.70,376.78 540.47,380.38 541.96,373.34 536.62,368.52 543.77,367.77" fill="#ffa60a" stroke="#ffa60a" stroke-width="0.8" stroke-linejoin="round"/>
<polygon points="568.10,361.20 571.03,367.77 578.18,368.52 572.84,373.34 574.33,380.38 568.10,376.78 561.87,380.38 563.36,373.34 558.02,368.52 565.17,367.77" fill="#ffa60a" stroke="#ffa60a" stroke-width="0.8" stroke-linejoin="round"/>
<polygon points="589.80,361.20 592.73,367.77 599.88,368.52 594.54,373.34 596.03,380.38 589.80,376.78 583.57,380.38 585.06,373.34 579.72,368.52 586.87,367.77" fill="#ffa60a" stroke="#ffa60a" stroke-width="0.8" stroke-linejoin="round"/>
<text x="466.8" y="401.0" font-size="8" fill="#10304e" text-anchor="start" font-weight="normal" textLength="42" lengthAdjust="spacingAndGlyphs" stroke="#10304e" stroke-width="0.15">Competent</text>
<polygon points="525.20,388.60 528.13,395.17 535.28,395.92 529.94,400.74 531.43,407.78 525.20,404.18 518.97,407.78 520.46,400.74 515.12,395.92 522.27,395.17" fill="#ffa60a" stroke="#ffa60a" stroke-width="0.8" stroke-linejoin="round"/>
<polygon points="546.70,388.60 549.63,395.17 556.78,395.92 551.44,400.74 552.93,407.78 546.70,404.18 540.47,407.78 541.96,400.74 536.62,395.92 543.77,395.17" fill="#ffa60a" stroke="#ffa60a" stroke-width="0.8" stroke-linejoin="round"/>
<polygon points="568.10,388.60 571.03,395.17 578.18,395.92 572.84,400.74 574.33,407.78 568.10,404.18 561.87,407.78 563.36,400.74 558.02,395.92 565.17,395.17" fill="#ffa60a" stroke="#ffa60a" stroke-width="0.8" stroke-linejoin="round"/>
<polygon points="589.80,389.10 592.77,395.11 599.41,396.08 594.60,400.76 595.74,407.37 589.80,404.25 583.86,407.37 585.00,400.76 580.19,396.08 586.83,395.11" fill="none" stroke="#ffa60a" stroke-width="1.5" stroke-linejoin="round"/>
<text x="466.8" y="428.4" font-size="8" fill="#10304e" text-anchor="start" font-weight="normal" textLength="37.7" lengthAdjust="spacingAndGlyphs" stroke="#10304e" stroke-width="0.15">Short wait</text>
<polygon points="525.20,416.00 528.13,422.57 535.28,423.32 529.94,428.14 531.43,435.18 525.20,431.58 518.97,435.18 520.46,428.14 515.12,423.32 522.27,422.57" fill="#ffa60a" stroke="#ffa60a" stroke-width="0.8" stroke-linejoin="round"/>
<polygon points="546.70,416.00 549.63,422.57 556.78,423.32 551.44,428.14 552.93,435.18 546.70,431.58 540.47,435.18 541.96,428.14 536.62,423.32 543.77,422.57" fill="#ffa60a" stroke="#ffa60a" stroke-width="0.8" stroke-linejoin="round"/>
<polygon points="568.10,416.50 571.07,422.51 577.71,423.48 572.90,428.16 574.04,434.77 568.10,431.65 562.16,434.77 563.30,428.16 558.49,423.48 565.13,422.51" fill="none" stroke="#ffa60a" stroke-width="1.5" stroke-linejoin="round"/>
<polygon points="589.80,416.50 592.77,422.51 599.41,423.48 594.60,428.16 595.74,434.77 589.80,431.65 583.86,434.77 585.00,428.16 580.19,423.48 586.83,422.51" fill="none" stroke="#ffa60a" stroke-width="1.5" stroke-linejoin="round"/>
</svg></body></html>
